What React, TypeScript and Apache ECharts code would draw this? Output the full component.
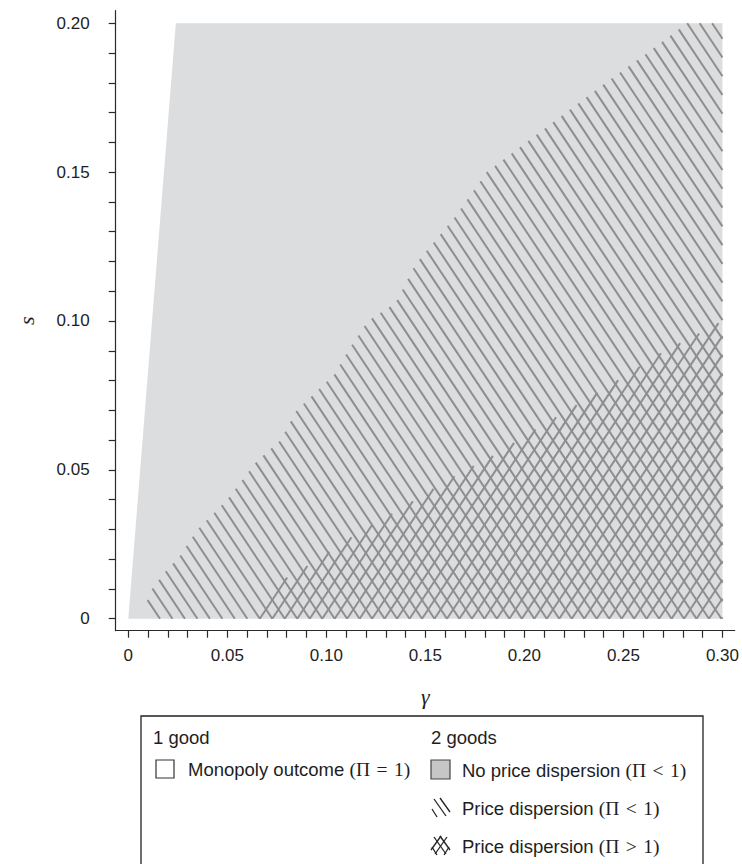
import React, { useEffect, useRef } from "react";
import * as echarts from "echarts";

// ---- data ----
const grayRegionGamma = [0, 0.024, 0.3, 0.3];
const grayRegionS = [0, 0.2, 0.2, 0];

// upper boundary of the "price dispersion" hatched region
const hatchBoundaryGamma = [0.006, 0.012, 0.019, 0.026, 0.035, 0.05, 0.065, 0.077, 0.085, 0.093, 0.104, 0.112, 0.121, 0.135, 0.145, 0.165, 0.181, 0.201, 0.221, 0.241, 0.262, 0.282];
const hatchBoundaryS = [0.0, 0.010, 0.016, 0.021, 0.030, 0.040, 0.053, 0.060, 0.070, 0.075, 0.082, 0.091, 0.100, 0.106, 0.119, 0.135, 0.150, 0.160, 0.170, 0.180, 0.190, 0.200];

// upper boundary of the cross-hatched region (Π > 1)
const crossBoundaryGamma = [0.062, 0.075, 0.085, 0.096, 0.107, 0.119, 0.130, 0.145, 0.165, 0.185, 0.197, 0.209, 0.222, 0.247, 0.271, 0.286, 0.300];
const crossBoundaryS = [0.0, 0.012, 0.0155, 0.020, 0.025, 0.030, 0.034, 0.040, 0.048, 0.055, 0.060, 0.065, 0.070, 0.080, 0.090, 0.095, 0.100];

// hatch pattern (intercepts of the lines γ ± s = c)
const hatchStart = 0.016;
const hatchStep = 0.0063;

const xTickLabels = [0, 0.05, 0.1, 0.15, 0.2, 0.25, 0.3];
const yTickLabels = [0, 0.05, 0.1, 0.15, 0.2];
const xMinorTicks = Array.from({ length: 31 }, (_, i) => i / 100);
const yMinorTicks = Array.from({ length: 21 }, (_, i) => i / 100);

const legendHeaders = ["1 good", "2 goods"];
const legendItems = [
  { text: "Monopoly outcome ", math: "(Π\u2004=\u20041)" },
  { text: "No price dispersion ", math: "(Π\u2004<\u20041)" },
  { text: "Price dispersion ", math: "(Π\u2004<\u20041)" },
  { text: "Price dispersion ", math: "(Π\u2004>\u20041)" },
];

function interp(xs: number[], ys: number[], x: number) {
  const n = xs.length;
  if (x <= xs[0]) return ys[0];
  if (x >= xs[n - 1]) return ys[n - 1];
  for (let i = 1; i < n; i++) {
    if (x <= xs[i]) {
      const t = (x - xs[i - 1]) / (xs[i] - xs[i - 1]);
      return ys[i - 1] + t * (ys[i] - ys[i - 1]);
    }
  }
  return ys[n - 1];
}

function bisect(f: (x: number) => number, lo: number, hi: number) {
  let a = lo, b = hi;
  const fa = f(a);
  for (let i = 0; i < 50; i++) {
    const m = (a + b) / 2;
    const fm = f(m);
    if ((fm < 0) === (fa < 0)) a = m; else b = m;
  }
  return (a + b) / 2;
}

function buildBackSlash() {
  const segs: number[][][] = [];
  const g0 = hatchBoundaryGamma[0];
  for (let c = hatchStart; c < 0.6; c += hatchStep) {
    const hi = Math.min(c, 0.3);
    if (hi <= g0) continue;
    const f = (g: number) => interp(hatchBoundaryGamma, hatchBoundaryS, g) + g - c;
    if (f(hi) <= 0) continue;
    const gs = bisect(f, g0, hi);
    const top = [gs, c - gs];
    const bottom = c <= 0.3 ? [c, 0] : [0.3, c - 0.3];
    segs.push([top, bottom]);
  }
  return segs;
}

function buildSlash() {
  const segs: number[][][] = [];
  for (let c = hatchStart; c < 0.3; c += hatchStep) {
    const g = (x: number) => (x <= crossBoundaryGamma[0] ? 0 : interp(crossBoundaryGamma, crossBoundaryS, x)) - (x - c);
    if (g(c) <= 0) continue;
    let end: number;
    if (g(0.3) >= 0) end = 0.3;
    else end = bisect(g, c, 0.3);
    segs.push([[c, 0], [end, end - c]]);
  }
  return segs;
}

const SANS = "'Liberation Sans', Arial, Helvetica, sans-serif";
const SERIF = "'Liberation Serif', 'Times New Roman', serif";
const HATCH = "#8e8e8e";
const INK = "#1e1e1e";

export default function App() {
  const ref = useRef<HTMLDivElement>(null);
  useEffect(() => {
    if (!ref.current) return;
    const chart = echarts.init(ref.current, undefined, { renderer: "svg" });
    const gray = grayRegionGamma.map((g, i) => [g, grayRegionS[i]]);
    const back = buildBackSlash();
    const slash = buildSlash();

    const fmt = (v: number) => (v === 0 ? "0" : v.toFixed(2));
    const axisLineStyle = { color: "#2a2a2a", width: 1.2 };

    const iconX = 431;
    const ln = (x1: number, y1: number, x2: number, y2: number) => ({
      type: "line",
      shape: { x1, y1, x2, y2 },
      style: { stroke: "#222", lineWidth: 1.3 },
    });
    const hatchIcon = (y: number, cross: boolean) => {
      const els: any[] = [
        ln(iconX + 9, y, iconX + 19, y + 14),
        ln(iconX + 3, y + 1, iconX + 15, y + 18),
        ln(iconX + 1, y + 11, iconX + 6, y + 19),
      ];
      if (cross) {
        els.push(
          ln(iconX + 10, y, iconX, y + 14),
          ln(iconX + 16, y + 1, iconX + 4, y + 18),
          ln(iconX + 18, y + 11, iconX + 13, y + 19)
        );
      }
      return els;
    };

    const legendText = (x: number, y: number, item: { text: string; math: string }) => ({
      type: "text",
      x,
      y,
      style: {
        text: `{a|${item.text}}{m|${item.math}}`,
        verticalAlign: "middle",
        rich: {
          a: { fontFamily: SANS, fontSize: 18.5, fill: INK },
          m: { fontFamily: SERIF, fontSize: 19.5, fill: INK },
        },
      },
    });

    chart.setOption({
      animation: false,
      grid: { left: 115.7, right: 7, top: 10.7, bottom: 233.3, containLabel: false },
      xAxis: {
        type: "value",
        min: -0.00636,
        max: 0.30621,
        name: "γ",
        nameLocation: "middle",
        nameGap: 55,
        nameTextStyle: { fontFamily: SERIF, fontStyle: "italic", fontSize: 22, color: INK },
        axisLine: { show: true, onZero: false, lineStyle: axisLineStyle },
        axisTick: { show: true, customValues: xMinorTicks, length: 7, lineStyle: axisLineStyle },
        axisLabel: { customValues: xTickLabels, formatter: fmt, fontFamily: SANS, fontSize: 17, color: INK, margin: 16 },
        splitLine: { show: false },
      },
      yAxis: {
        type: "value",
        min: -0.00403,
        max: 0.20423,
        name: "s",
        nameLocation: "middle",
        nameGap: 78,
        nameTextStyle: { fontFamily: SERIF, fontStyle: "italic", fontSize: 22, color: INK },
        axisLine: { show: true, onZero: false, lineStyle: axisLineStyle },
        axisTick: { show: true, customValues: yMinorTicks, length: 7, lineStyle: axisLineStyle },
        axisLabel: { customValues: yTickLabels, formatter: fmt, fontFamily: SANS, fontSize: 17, color: INK, margin: 26 },
        splitLine: { show: false },
      },
      series: [
        {
          type: "custom",
          silent: true,
          z: 1,
          data: [[0, 0]],
          encode: { x: 0, y: 1 },
          renderItem: (_p: any, api: any) => ({
            type: "polygon",
            shape: { points: gray.map((p) => api.coord(p)) },
            style: { fill: "#dcdddf" },
          }),
        },
        {
          type: "lines",
          coordinateSystem: "cartesian2d",
          silent: true,
          z: 2,
          lineStyle: { color: HATCH, width: 2, opacity: 1 },
          data: back.map((s) => ({ coords: s })),
        },
        {
          type: "lines",
          coordinateSystem: "cartesian2d",
          silent: true,
          z: 2,
          lineStyle: { color: HATCH, width: 2, opacity: 1 },
          data: slash.map((s) => ({ coords: s })),
        },
      ],
      graphic: [
        { type: "rect", shape: { x: 141, y: 716, width: 562, height: 200 }, style: { fill: "none", stroke: "#222", lineWidth: 1.3 } },
        { type: "text", x: 153, y: 737, style: { text: legendHeaders[0], fontFamily: SANS, fontSize: 18.5, fill: INK, verticalAlign: "middle" } },
        { type: "text", x: 431, y: 737, style: { text: legendHeaders[1], fontFamily: SANS, fontSize: 18.5, fill: INK, verticalAlign: "middle" } },
        { type: "rect", shape: { x: 156, y: 760, width: 18, height: 18 }, style: { fill: "#fff", stroke: "#333", lineWidth: 1.2 } },
        legendText(188, 769, legendItems[0]),
        { type: "rect", shape: { x: 431, y: 760, width: 19, height: 19 }, style: { fill: "#c6c6c6", stroke: "#444", lineWidth: 1.2 } },
        legendText(462, 770, legendItems[1]),
        ...hatchIcon(798, false),
        legendText(462, 808, legendItems[2]),
        ...hatchIcon(836, true),
        legendText(462, 846, legendItems[3]),
      ],
    });
    return () => chart.dispose();
  }, []);
  return <div ref={ref} style={{ position: "absolute", left: 0, top: 0, width: 742, height: 864 }} />;
}
